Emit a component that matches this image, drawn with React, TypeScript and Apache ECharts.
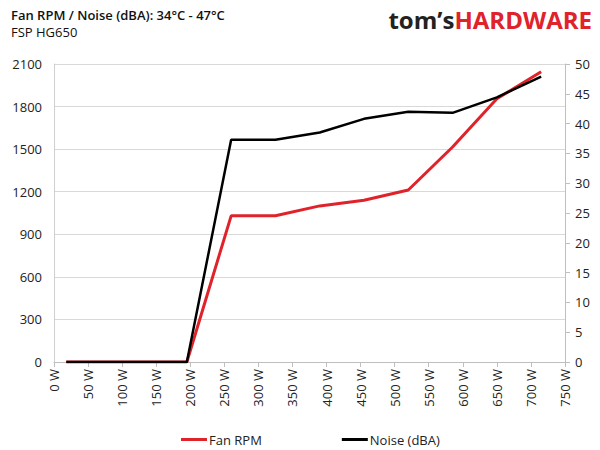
import { useEffect, useRef } from 'react';
import * as echarts from 'echarts';

// Load points (W) and readings
const loads = [18, 65, 130, 195, 260, 325, 390, 455, 520, 585, 650, 715];
const fanRpm = [0, 0, 0, 0, 1030, 1030, 1100, 1140, 1212, 1515, 1855, 2045];
const noiseDba = [0, 0, 0, 0, 37.3, 37.3, 38.5, 40.8, 42.0, 41.8, 44.4, 47.9];

const titleText = 'Fan RPM / Noise (dBA): 34°C - 47°C';
const subtitleText = 'FSP HG650';
const seriesNames = ['Fan RPM', 'Noise (dBA)'];

const FONT = '"Open Sans", "Noto Sans", sans-serif';
const RED = '#e0222b';

export default function App() {
  const chartRef = useRef<HTMLDivElement>(null);

  useEffect(() => {
    if (!chartRef.current) return;
    const chart = echarts.init(chartRef.current, null, { renderer: 'svg' });

    const option: echarts.EChartsOption = {
      animation: false,
      backgroundColor: '#ffffff',
      textStyle: { fontFamily: FONT },
      title: {
        text: titleText,
        subtext: subtitleText,
        left: 6,
        top: 3,
        itemGap: 4,
        textStyle: { fontFamily: FONT, fontSize: 13, fontWeight: 600, color: '#111' },
        subtextStyle: { fontFamily: FONT, fontSize: 13, color: '#111' },
      },
      graphic: [
        {
          type: 'text',
          right: 8,
          top: 7,
          style: {
            text: '{a|tom’s}{b|HARDWARE}',
            rich: {
              a: { fontFamily: FONT, fontSize: 24, fontWeight: 'bold', fill: '#222' },
              b: { fontFamily: FONT, fontSize: 24, fontWeight: 'bold', fill: RED },
            },
          },
        },
      ],
      legend: {
        left: 176,
        top: 428,
        itemGap: 80,
        itemWidth: 26,
        itemHeight: 3,
        icon: 'rect',
        textStyle: { fontFamily: FONT, fontSize: 13, color: '#222', padding: [0, 0, 0, -3] },
        data: seriesNames,
      },
      grid: { left: 54, right: 35, top: 64, bottom: 88 },
      xAxis: {
        type: 'value',
        min: 0,
        max: 750,
        interval: 50,
        axisLine: { show: true, lineStyle: { color: '#bfbfbf' } },
        axisTick: { show: true, length: 5, lineStyle: { color: '#bfbfbf' } },
        splitLine: { show: false },
        axisLabel: {
          rotate: 90,
          fontFamily: FONT,
          fontSize: 13,
          color: '#222',
          margin: 7,
          formatter: (v: number) => `${v} W`,
        },
      },
      yAxis: [
        {
          type: 'value',
          min: 0,
          max: 2100,
          interval: 300,
          axisLine: { show: true, lineStyle: { color: '#d0d0d0' } },
          axisTick: { show: false },
          splitLine: { show: true, lineStyle: { color: '#d9d9d9', width: 1 } },
          axisLabel: {
            fontFamily: FONT,
            fontSize: 13,
            color: '#222',
            margin: 12,
            formatter: (v: number) => String(v),
          },
        },
        {
          type: 'value',
          min: 0,
          max: 50,
          interval: 5,
          axisLine: { show: true, lineStyle: { color: '#bfbfbf' } },
          axisTick: { show: true, length: 5, lineStyle: { color: '#bfbfbf' } },
          splitLine: { show: false },
          axisLabel: {
            fontFamily: FONT,
            fontSize: 13,
            color: '#222',
            margin: 10,
            formatter: (v: number) => String(v),
          },
        },
      ],
      series: [
        {
          name: seriesNames[0],
          type: 'line',
          yAxisIndex: 0,
          symbol: 'none',
          data: loads.map((w, i) => [w, fanRpm[i]]),
          lineStyle: { color: RED, width: 3 },
          itemStyle: { color: RED },
          z: 3,
        },
        {
          name: seriesNames[1],
          type: 'line',
          yAxisIndex: 1,
          symbol: 'none',
          data: loads.map((w, i) => [w, noiseDba[i]]),
          lineStyle: { color: '#000', width: 2.5 },
          itemStyle: { color: '#000' },
          z: 4,
        },
      ],
    };

    chart.setOption(option);
    return () => chart.dispose();
  }, []);

  return (
    <div
      ref={chartRef}
      style={{ width: 600, height: 450, position: 'absolute', left: 0, top: 0 }}
    />
  );
}
